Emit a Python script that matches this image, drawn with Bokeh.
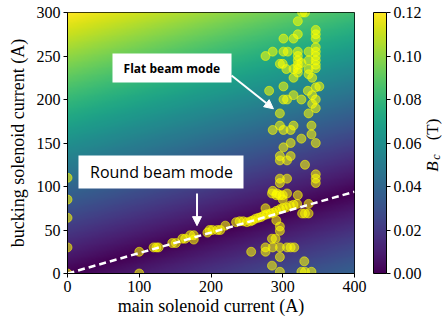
import numpy as np
from bokeh.plotting import figure
from bokeh.layouts import row
from bokeh.models import (LinearColorMapper, ColorBar, FixedTicker, Arrow, NormalHead,
                          Range1d, PrintfTickFormatter)
from bokeh.palettes import Viridis256
from bokeh.core.properties import value
from bokeh.embed import file_html
from bokeh.resources import INLINE

# ---- field (B_c in T) ----
B_AT_MAIN0_BUCK300 = 0.12     # top-left corner
B_AT_MAIN400_BUCK0 = 0.037    # bottom-right corner
B_LOW, B_HIGH = 0.0, 0.12
cbar_ticks = [0.00, 0.02, 0.04, 0.06, 0.08, 0.10, 0.12]
x_ticks = [0, 100, 200, 300, 400]
y_ticks = [0, 50, 100, 150, 200, 250, 300]

# ---- dashed reference line ----
line_main = [0, 400]
line_buck = [0, 94]

# ---- measured operating points ----
main_current = [
    0, 0, 0, 0, 0, 100, 100,
    120, 124, 127, 146, 151, 160, 164, 171, 176, 176, 195, 198, 202, 209, 213, 220,
    235, 240, 245, 250, 255, 258, 262, 266, 270, 274, 278, 283, 287, 291, 296, 300,
    305, 310, 315, 320, 327, 331, 336, 336,
    276, 286, 291, 296, 300, 300, 321, 285, 292, 306, 291, 296, 296,
    285, 290, 276, 286, 296, 306, 311, 316, 276, 256, 296, 285, 330, 296, 326, 331, 340,
    346, 346, 346, 296, 296, 306, 331,
    296, 296, 306, 311, 301, 311, 346, 326, 340,
    286, 301, 311, 296, 315, 340, 296, 336, 346, 341,
    281, 301, 301, 306, 315, 326, 335, 341, 346, 346, 351,
    315, 341, 296, 300, 305, 326, 315,
    276, 286, 301, 307,
    321, 321, 321, 321, 321, 321,
    336, 336, 336, 336,
    346, 346, 346, 346, 346, 346,
    301, 315, 321, 321, 327, 331, 346, 346, 346,
]
bucking_current = [
    110, 85, 64, 30, 0, 25, 0,
    30, 30, 30, 35, 35, 40, 40, 44, 44, 39, 47, 50, 50, 50, 50, 55,
    59, 60, 60, 59, 60, 61, 63, 64, 65, 67, 68, 69, 70, 72, 74, 75,
    76, 78, 79, 80, 69, 69, 69, 80,
    75, 95, 90, 90, 90, 85, 90, 92, 92, 92, 61, 54, 49,
    40, 40, 30, 30, 30, 30, 30, 30, 25, 25, 19, 9, 14, 2, 2, 2, 2,
    114, 109, 104, 109, 104, 109, 125,
    135, 130, 130, 135, 145, 150, 150, 155, 160,
    165, 165, 165, 170, 170, 170, 184, 184, 190, 195,
    210, 215, 200, 200, 205, 200, 210, 205, 200, 214, 215,
    225, 225, 241, 241, 235, 242, 235,
    250, 255, 255, 255,
    255, 250, 245, 240, 235, 231,
    255, 245, 235, 229,
    260, 255, 250, 245, 240, 236,
    270, 270, 275, 290, 300, 300, 280, 275, 270,
]

# ---- field grid ----
gx = np.linspace(0, 400, 401)
gy = np.linspace(0, 300, 301)
GX, GY = np.meshgrid(gx, gy)
field = np.abs(B_AT_MAIN0_BUCK300 * GY / 300.0 - B_AT_MAIN400_BUCK0 * GX / 400.0)

mapper = LinearColorMapper(palette=Viridis256, low=B_LOW, high=B_HIGH)

SERIF = "Liberation Serif"
H = 327
TOP, BOTTOM = 12, 54
FRAME_H = H - TOP - BOTTOM

p = figure(width=372, height=H, x_range=Range1d(0, 400), y_range=Range1d(0, 300),
           output_backend="svg", toolbar_location=None,
           min_border_left=67, min_border_top=TOP, min_border_bottom=BOTTOM, min_border_right=18)
p.image(image=[field], x=0, y=0, dw=400, dh=300, color_mapper=mapper)

p.scatter(main_current, bucking_current, size=9, fill_color="#ffff00", line_color="#ffff00",
          fill_alpha=0.55, line_alpha=0.55)

p.line(line_main, line_buck, line_color="white", line_width=2.5, line_dash="7 4")

# annotation boxes
p.quad(left=[62.7], right=[228.6], bottom=[219.5], top=[252.9], fill_color="white", line_color=None)
p.quad(left=[15.3], right=[245.3], bottom=[97.7], top=[135.6], fill_color="white", line_color=None)
p.text(x=[145.5], y=[236.2], text=["Flat beam mode"], text_font=value("Open Sans"),
       text_font_style="bold", text_font_size="12px", text_align="center",
       text_baseline="middle", text_color="black")
p.text(x=[131], y=[116.7], text=["Round beam mode"], text_font=value("Open Sans"),
       text_font_size="16px", text_align="center", text_baseline="middle", text_color="black")

p.add_layout(Arrow(end=NormalHead(size=9, fill_color="white", line_color="white"),
                   x_start=228.6, y_start=227.6, x_end=287, y_end=189.3,
                   line_color="white", line_width=2))
p.add_layout(Arrow(end=NormalHead(size=9, fill_color="white", line_color="white"),
                   x_start=180.5, y_start=92, x_end=180.5, y_end=55,
                   line_color="white", line_width=2))

# axes
p.grid.visible = False
p.outline_line_color = "black"
p.outline_line_width = 1
for ax in (p.xaxis[0], p.yaxis[0]):
    ax.major_tick_in = 0
    ax.major_tick_out = 4
    ax.minor_tick_line_color = None
    ax.axis_line_color = "black"
    ax.major_tick_line_color = "black"
    ax.major_label_text_font = SERIF
    ax.major_label_text_font_size = "16px"
    ax.major_label_text_color = "black"
    ax.axis_label_text_font = SERIF
    ax.axis_label_text_font_size = "18px"
    ax.axis_label_text_font_style = "normal"
    ax.axis_label_text_color = "black"
p.xaxis.ticker = FixedTicker(ticks=x_ticks)
p.yaxis.ticker = FixedTicker(ticks=y_ticks)
p.xaxis.axis_label = "main solenoid current (A)"
p.yaxis.axis_label = "bucking solenoid current (A)"
p.xaxis.major_label_standoff = 3
p.yaxis.major_label_standoff = 3
p.xaxis.axis_label_standoff = 1
p.yaxis.axis_label_standoff = 6

# ---- colorbar canvas: bar, its ticks and the rotated title B_c (T) ----
t = figure(width=70, height=H, x_range=Range1d(0, 69), y_range=Range1d(0, FRAME_H),
           output_backend="svg", toolbar_location=None,
           min_border_left=1, min_border_right=0, min_border_top=TOP, min_border_bottom=BOTTOM,
           x_axis_location=None, y_axis_location=None)
t.grid.visible = False
t.outline_line_color = None
t.background_fill_color = None
t.border_fill_color = None

cb = ColorBar(color_mapper=mapper, ticker=FixedTicker(ticks=cbar_ticks),
              formatter=PrintfTickFormatter(format="%.2f"), width=13, height=FRAME_H,
              major_tick_in=0, major_tick_out=4, major_tick_line_color="black",
              minor_tick_line_color=None, bar_line_color="black", bar_line_width=1,
              major_label_text_font=SERIF, major_label_text_font_size="16px",
              major_label_text_color="black", label_standoff=3,
              padding=0, margin=0, location=(0, 0), border_line_color=None,
              background_fill_alpha=0)
t.add_layout(cb)

t.text(x=[59], y=[107], text=["B"], angle=np.pi / 2, text_font=value(SERIF),
       text_font_style="italic", text_font_size="17px", text_align="center",
       text_baseline="middle", text_color="black")
t.text(x=[62.5], y=[116.5], text=["c"], angle=np.pi / 2, text_font=value(SERIF),
       text_font_style="italic", text_font_size="12px", text_align="center",
       text_baseline="middle", text_color="black")
t.text(x=[59], y=[144], text=["(T)"], angle=np.pi / 2, text_font=value(SERIF),
       text_font_size="17px", text_align="center", text_baseline="middle", text_color="black")

layout = row(p, t, spacing=0)
open("out.html", "w").write(file_html(layout, INLINE))
